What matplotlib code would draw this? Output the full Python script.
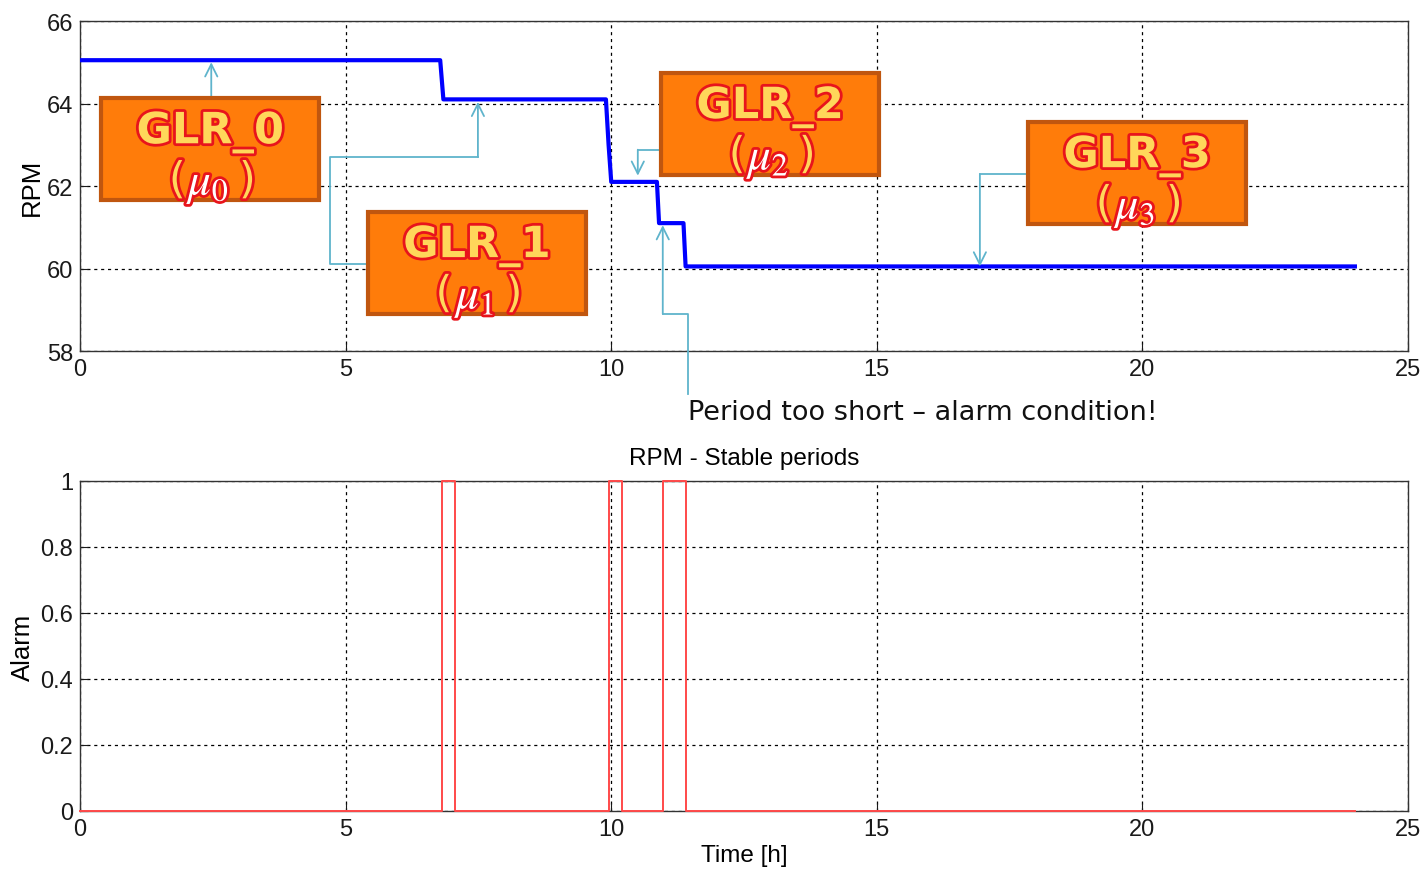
import matplotlib.pyplot as plt
import matplotlib.patheffects as pe
from matplotlib.patches import Rectangle

# RPM level breakpoints (time in h, rpm)
rpm_t = [0.0, 6.78, 6.84, 9.90, 9.95, 10.00, 10.86, 10.90, 11.36, 11.40, 24.0]
rpm_v = [65.05, 65.05, 64.1, 64.1, 63.0, 62.1, 62.1, 61.1, 61.1, 60.05, 60.05]

# alarm pulses (start / end in h)
alarm_on = [6.81, 9.96, 10.97]
alarm_off = [7.06, 10.20, 11.40]
t_end = 24.0

box_names = ['GLR_0', 'GLR_1', 'GLR_2', 'GLR_3']
box_mu = [r'$\mu_0$', r'$\mu_1$', r'$\mu_2$', r'$\mu_3$']

alarm_t, alarm_v = [0.0], [0]
for a, b in zip(alarm_on, alarm_off):
    alarm_t += [a, a, b, b]
    alarm_v += [0, 1, 1, 0]
alarm_t.append(t_end)
alarm_v.append(0)

plt.rcParams['font.family'] = ['Liberation Sans', 'DejaVu Sans']
plt.rcParams['mathtext.fontset'] = 'stix'

fig = plt.figure(figsize=(14.27, 8.7), dpi=100)
ax1 = fig.add_axes([0.0561, 0.5954, 0.9306, 0.3793])
ax2 = fig.add_axes([0.0561, 0.0667, 0.9306, 0.3793])

for ax in (ax1, ax2):
    ax.set_xlim(0, 25)
    ax.set_xticks([0, 5, 10, 15, 20, 25])
    ax.grid(True, color='black', linestyle=(0, (2.5, 3)), linewidth=0.9)
    ax.tick_params(direction='in', length=6, labelsize=17, pad=5,
                   colors='#1a1a1a')
    for s in ax.spines.values():
        s.set_color('#333333')
        s.set_linewidth(1.0)

ax1.plot(rpm_t, rpm_v, color='#0000ff', linewidth=3.0, zorder=3)
ax1.set_ylim(58, 66)
ax1.set_yticks([58, 60, 62, 64, 66])
ax1.set_ylabel('RPM', fontsize=18.5, labelpad=2)

ax2.plot(alarm_t, alarm_v, color='#ff4a4a', linewidth=1.4, zorder=3, clip_on=False)
ax2.set_ylim(0, 1)
ax2.set_yticks([0, 0.2, 0.4, 0.6, 0.8, 1])
ax2.set_yticklabels(['0', '0.2', '0.4', '0.6', '0.8', '1'])
ax2.set_ylabel('Alarm', fontsize=18.5, labelpad=4)
ax2.set_xlabel('Time [h]', fontsize=17.5, labelpad=3)
ax2.set_title('RPM - Stable periods', fontsize=17.5, pad=12)

# orange annotation boxes (lower-left x, y in data units)
box_xy = [(0.40, 61.66), (5.42, 58.90), (10.94, 62.27), (17.85, 61.08)]
box_w, box_h = 4.10, 2.47
yellow = '#ffd75a'
glow = [pe.withStroke(linewidth=4, foreground='#e8141c')]
for (bx, by), name, mu in zip(box_xy, box_names, box_mu):
    ax1.add_patch(Rectangle((bx, by), box_w, box_h, facecolor='#ff7c0a',
                            edgecolor='#c0560f', linewidth=3, zorder=5,
                            clip_on=False))
    cx = bx + box_w / 2
    ax1.text(cx, by + box_h * 0.665, name, ha='center', va='center',
             fontsize=31, fontweight='bold', family='DejaVu Sans',
             color=yellow, path_effects=glow, zorder=6)
    ax1.text(cx - 0.62, by + box_h * 0.19, '(', ha='center', va='center',
             fontsize=31, family='DejaVu Sans', color=yellow,
             path_effects=glow, zorder=6)
    ax1.text(cx + 0.70, by + box_h * 0.19, ')', ha='center', va='center',
             fontsize=31, family='DejaVu Sans', color=yellow,
             path_effects=glow, zorder=6)
    ax1.text(cx - 0.02, by + box_h * 0.16, mu, ha='center', va='center',
             fontsize=33, color='white', path_effects=glow, zorder=6)

# connector lines with open arrow heads
con = '#5fb4cc'
paths = [
    [(2.47, 64.13), (2.47, 65.0)],
    [(5.42, 60.11), (4.71, 60.11), (4.71, 62.70), (7.49, 62.70), (7.49, 64.04)],
    [(10.97, 63.46), (10.97, 62.88), (10.50, 62.88), (10.50, 62.25)],
    [(17.85, 62.29), (16.94, 62.29), (16.94, 60.05)],
    [(11.45, 56.96), (11.45, 58.90), (10.97, 58.90), (10.97, 61.05)],
]
for p in paths:
    xs = [q[0] for q in p[:-1]]
    ys = [q[1] for q in p[:-1]]
    ax1.plot(xs, ys, color=con, linewidth=1.3, zorder=4, clip_on=False)
    ax1.annotate('', xy=p[-1], xytext=p[-2], zorder=4, annotation_clip=False,
                 arrowprops=dict(arrowstyle='->', color=con, lw=1.3,
                                 shrinkA=0, shrinkB=0, mutation_scale=22))

ax1.text(11.45, 56.52, 'Period too short \u2013 alarm condition!', ha='left',
         va='center', fontsize=19.5, family='DejaVu Sans', color='#111111')

fig.savefig('out.png', dpi=100)
